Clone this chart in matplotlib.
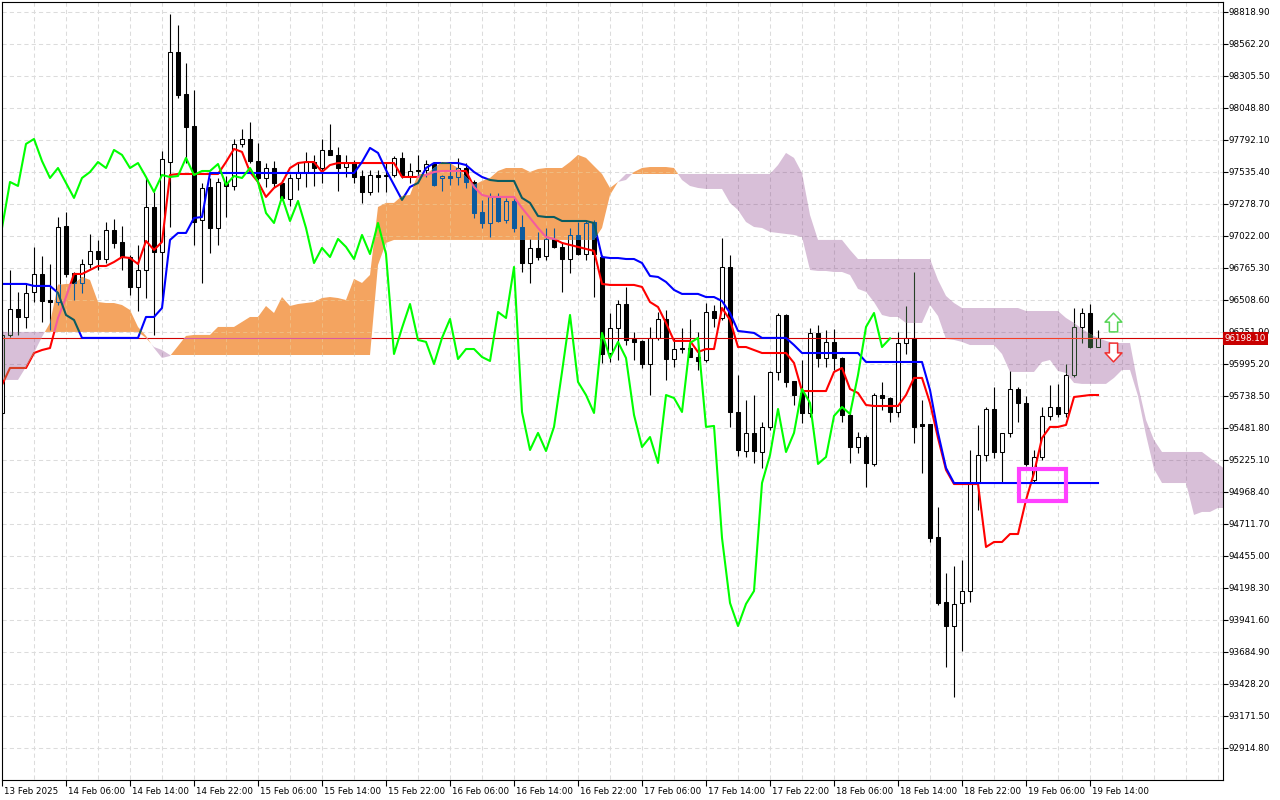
import matplotlib
matplotlib.use("Agg")
import matplotlib.pyplot as plt
import numpy as np
from matplotlib.colors import to_rgb
from matplotlib.path import Path
from matplotlib.patches import PathPatch, Rectangle
from matplotlib.transforms import ScaledTranslation

plt.rcParams['font.family'] = ['DejaVu Sans']

# hourly bars, first one is 13 Feb 22:00
OPEN = [95600, 96226, 96434, 96370, 96571, 96715, 96506, 96490, 97100, 96723,
        96643, 96795, 96900, 96835, 97068, 96972, 96851, 96611, 96747, 97252,
        96891, 97613, 98496, 98159, 97902, 97148, 97413, 97084, 97453, 97421,
        97758, 97798, 97621, 97485, 97565, 97445, 97317, 97485, 97533, 97613,
        97565, 97710, 97670, 97573, 97605, 97501, 97373, 97509, 97509, 97509,
        97646, 97501, 97549, 97549, 97605, 97485, 97501, 97493, 97565, 97453,
        97212, 97124, 97333, 97148, 97301, 97092, 96803, 96924, 96859, 96996,
        96932, 96835, 97028, 96875, 97132, 96851, 96081, 96282, 96474, 96194,
        96178, 95993, 96202, 96354, 96033, 96121, 96121, 96049, 96025, 96418,
        96362, 96771, 95608, 95295, 95440, 95287, 95488, 95929, 96386, 95857,
        95760, 95600, 96242, 96041, 96170, 96041, 95584, 95327, 95407, 95191,
        95744, 95720, 95608, 96161, 96202, 95512, 95512, 94605, 94084, 93891,
        94076, 94172, 95038, 95263, 95632, 95287, 95440, 95792, 95680, 95062,
        95247, 95576, 95648, 95600, 95905, 96290, 96402, 96129]
HIGH = [96266, 96747, 96571, 96643, 96932, 96859, 96795, 97172, 97212, 96731,
        96835, 97036, 96988, 97132, 97156, 97100, 96867, 96948, 97485, 97373,
        97702, 98801, 98712, 98408, 98191, 97445, 97485, 97485, 97501, 97798,
        97878, 97934, 97766, 97605, 97621, 97469, 97517, 97613, 97694, 97670,
        97798, 97918, 97734, 97670, 97629, 97549, 97549, 97549, 97605, 97662,
        97694, 97605, 97670, 97629, 97613, 97509, 97605, 97646, 97605, 97469,
        97309, 97365, 97365, 97325, 97325, 97188, 96996, 97052, 97084, 97084,
        96964, 97084, 97132, 97148, 97148, 96867, 96402, 96506, 96611, 96250,
        96186, 96290, 96410, 96426, 96202, 96282, 96354, 96250, 96482, 96466,
        97004, 96867, 95905, 95704, 95744, 95528, 95937, 96402, 96390, 95860,
        96025, 96282, 96306, 96266, 96274, 96049, 95608, 95448, 95423, 95760,
        95849, 95728, 96250, 96458, 96731, 95704, 95515, 94846, 94316, 94373,
        94421, 95303, 95504, 95648, 95809, 95440, 95937, 95809, 95736, 95303,
        95648, 95825, 95833, 95993, 96442, 96442, 96474, 96266]
LOW = [95544, 96210, 96226, 96282, 96490, 96330, 96266, 96466, 96691, 96506,
       96563, 96763, 96747, 96803, 96924, 96747, 96547, 96418, 96522, 96226,
       96506, 97092, 98127, 97605, 96948, 96643, 96883, 96948, 97172, 97389,
       97734, 97605, 97469, 97413, 97413, 97309, 97260, 97389, 97413, 97421,
       97445, 97670, 97381, 97493, 97445, 97285, 97349, 97373, 97373, 97493,
       97485, 97445, 97493, 97493, 97421, 97381, 97429, 97429, 97405, 97164,
       97084, 97012, 97132, 97124, 97052, 96731, 96643, 96827, 96827, 96924,
       96571, 96723, 96867, 96827, 96530, 96001, 96009, 96025, 96145, 96025,
       95961, 95744, 96186, 95865, 95969, 96081, 96049, 95945, 96009, 96290,
       96346, 95488, 95255, 95247, 95199, 95159, 95464, 95865, 95809, 95664,
       95520, 95568, 95969, 95969, 95945, 95528, 95199, 95279, 95006, 95175,
       95624, 95528, 95568, 96073, 95359, 95119, 94565, 94060, 93562, 93322,
       93691, 94084, 94822, 95215, 95239, 95038, 95407, 95528, 95175, 95038,
       95223, 95544, 95568, 95568, 95889, 96161, 96121, 96129]
CLOSE = [96226, 96434, 96370, 96563, 96715, 96498, 96490, 97092, 96715, 96643,
         96795, 96900, 96835, 97068, 96964, 96851, 96611, 96747, 97252, 96891,
         97638, 98496, 98151, 97894, 97132, 97405, 97084, 97453, 97421, 97758,
         97798, 97621, 97485, 97565, 97445, 97325, 97485, 97533, 97613, 97565,
         97710, 97670, 97565, 97605, 97493, 97373, 97509, 97493, 97501, 97646,
         97509, 97541, 97541, 97597, 97429, 97501, 97485, 97565, 97453, 97204,
         97124, 97333, 97140, 97301, 97084, 96803, 96924, 96851, 96996, 96932,
         96835, 97028, 96875, 97124, 96875, 96073, 96282, 96474, 96186, 96170,
         95993, 96202, 96354, 96033, 96113, 96113, 96049, 96017, 96410, 96362,
         96771, 95608, 95303, 95440, 95295, 95488, 95929, 96386, 95849, 95744,
         95600, 96242, 96041, 96170, 96041, 95584, 95327, 95407, 95199, 95744,
         95720, 95608, 96161, 96202, 95488, 95496, 94597, 94076, 93891, 94068,
         94172, 95038, 95263, 95632, 95287, 95440, 95792, 95680, 95191, 95247,
         95576, 95648, 95592, 95905, 96290, 96402, 96129, 96198.1]

# Ichimoku lines
TENKAN = [95825, 95961, 95961, 95961, 96081, 96105, 96121, 96362, 96530, 96715,
          96715, 96747, 96779, 96779, 96811, 96851, 96843, 96795, 96980, 96908,
          96972, 97509, 97517, 97517, 97517, 97517, 97517, 97517, 97613, 97718,
          97694, 97533, 97453, 97333, 97405, 97445, 97565, 97605, 97613, 97613,
          97533, 97589, 97605, 97605, 97605, 97605, 97605, 97605, 97605, 97605,
          97493, 97493, 97493, 97509, 97533, 97541, 97541, 97541, 97541, 97413,
          97349, 97333, 97333, 97333, 97333, 97244, 97164, 97084, 97012, 96996,
          96964, 96948, 96932, 96916, 96900, 96635, 96627, 96627, 96627, 96627,
          96611, 96490, 96450, 96322, 96178, 96178, 96178, 96089, 96113, 96113,
          96442, 96346, 96129, 96129, 96105, 96081, 96081, 96081, 96081, 96001,
          95776, 95776, 95776, 95776, 95929, 95961, 95792, 95760, 95664, 95656,
          95656, 95656, 95656, 95744, 95881, 95881, 95680, 95399, 95143, 95030,
          95030, 95030, 95030, 94525, 94565, 94565, 94629, 94629, 94902, 95119,
          95399, 95488, 95488, 95504, 95728, 95736, 95744, 95744]
KIJUN = [96635, 96635, 96635, 96635, 96619, 96619, 96619, 96563, 96386, 96346,
         96202, 96202, 96202, 96202, 96202, 96202, 96202, 96202, 96370, 96370,
         96442, 96988, 97044, 97044, 97164, 97172, 97525, 97525, 97525, 97525,
         97525, 97525, 97525, 97525, 97525, 97525, 97525, 97525, 97525, 97525,
         97525, 97525, 97525, 97525, 97525, 97613, 97726, 97686, 97549, 97429,
         97309, 97413, 97445, 97565, 97605, 97605, 97605, 97605, 97589, 97533,
         97493, 97469, 97461, 97461, 97461, 97325, 97285, 97180, 97172, 97172,
         97140, 97140, 97140, 97140, 97124, 96851, 96843, 96843, 96835, 96835,
         96803, 96699, 96691, 96651, 96587, 96555, 96555, 96555, 96530, 96530,
         96498, 96402, 96258, 96250, 96242, 96202, 96202, 96202, 96202, 96145,
         96081, 96081, 96081, 96081, 96081, 96081, 96081, 96081, 96009, 96009,
         96009, 96009, 96009, 96009, 96009, 96009, 95784, 95440, 95159, 95038,
         95038, 95038, 95038, 95038, 95038, 95038, 95038, 95038, 95038, 95038,
         95038, 95038, 95038, 95038, 95038, 95038, 95038, 95038]
# cloud spans, already drawn 26 bars ahead
SPAN_A = [95865, 95865, 95865, 95969, 96081, 96210, 96322, 96627, 96635, 96635,
          96691, 96667, 96490, 96482, 96482, 96466, 96426, 96290, 96218, 96121,
          96041, 96057, 96137, 96218, 96226, 96226, 96226, 96290, 96290, 96290,
          96330, 96370, 96370, 96458, 96402, 96530, 96458, 96474, 96482, 96490,
          96522, 96530, 96522, 96506, 96675, 96643, 96707, 97252, 97285, 97285,
          97341, 97349, 97517, 97517, 97565, 97613, 97605, 97565, 97493, 97429,
          97461, 97485, 97541, 97565, 97565, 97565, 97533, 97557, 97565, 97565,
          97565, 97613, 97670, 97646, 97581, 97517, 97405, 97453, 97469, 97533,
          97565, 97573, 97573, 97573, 97565, 97469, 97421, 97405, 97397, 97397,
          97397, 97285, 97228, 97132, 97092, 97084, 97052, 97044, 97036, 97028,
          97012, 96747, 96739, 96739, 96731, 96731, 96707, 96595, 96571, 96490,
          96386, 96370, 96370, 96322, 96322, 96322, 96466, 96378, 96194, 96186,
          96170, 96145, 96145, 96145, 96145, 96073, 95929, 95929, 95929, 95929,
          96009, 96025, 95937, 95921, 95841, 95833, 95833, 95833, 95833, 95881,
          95945, 95945, 95736, 95423, 95151, 95038, 95038, 95038, 95038, 94782,
          94806, 94806, 94838, 94838]
SPAN_B = [96250, 96250, 96250, 96250, 96250, 96250, 96250, 96250, 96250, 96250,
          96250, 96250, 96250, 96250, 96250, 96250, 96250, 96250, 96202, 96129,
          96105, 96065, 96065, 96065, 96065, 96065, 96065, 96065, 96065, 96065,
          96065, 96065, 96065, 96065, 96065, 96065, 96065, 96065, 96065, 96065,
          96065, 96065, 96065, 96065, 96065, 96065, 96065, 96787, 96964, 96988,
          96988, 96988, 96988, 96988, 96988, 96988, 96988, 96988, 96988, 96988,
          96988, 96988, 96988, 96988, 96988, 96988, 96988, 96988, 96988, 96988,
          96988, 96988, 96988, 96988, 96988, 97084, 97349, 97453, 97517, 97517,
          97517, 97517, 97517, 97517, 97517, 97517, 97517, 97517, 97517, 97517,
          97517, 97517, 97517, 97517, 97517, 97517, 97517, 97589, 97686, 97646,
          97525, 97188, 96988, 96988, 96988, 96988, 96908, 96835, 96835, 96835,
          96835, 96835, 96835, 96835, 96835, 96835, 96835, 96667, 96539, 96482,
          96442, 96442, 96442, 96442, 96442, 96442, 96442, 96442, 96418, 96418,
          96418, 96418, 96418, 96362, 96322, 96274, 96234, 96202, 96178, 96161,
          96161, 96161, 95825, 95544, 95383, 95287, 95287, 95287, 95287, 95287,
          95287, 95239, 95191, 95143]
CHIKOU_SHIFT = 26

BID = 96198.10
PRICE_TICKS = [98818.90, 98562.20, 98305.50, 98048.80, 97792.10, 97535.40,
               97278.70, 97022.00, 96765.30, 96508.60, 96251.90, 95995.20,
               95738.50, 95481.80, 95225.10, 94968.40, 94711.70, 94455.00,
               94198.30, 93941.60, 93684.90, 93428.20, 93171.50, 92914.80]
DATE_LABELS = ["13 Feb 2025", "14 Feb 06:00", "14 Feb 14:00", "14 Feb 22:00",
               "15 Feb 06:00", "15 Feb 14:00", "15 Feb 22:00", "16 Feb 06:00",
               "16 Feb 14:00", "16 Feb 22:00", "17 Feb 06:00", "17 Feb 14:00",
               "17 Feb 22:00", "18 Feb 06:00", "18 Feb 14:00", "18 Feb 22:00",
               "19 Feb 06:00", "19 Feb 14:00"]
DATE_STEP = 8
GRID_STEP = 4

# tenkan/kijun cross box and the two signal arrows
CROSS_BOX = (127.1, 94894, 133.0, 95150)
ARROW_BAR = 138.9
ARROW_UP = 96330
ARROW_DOWN = 96093

SANDY = '#f4a460'
THISTLE = '#d8bfd8'
GRID_COL = '#dcdcdc'
BID_COL = '#d00000'
FS = 6.3


def xor_with(cloud):
    # the cloud filling inverts whatever lies under it
    cl = np.round(np.array(to_rgb(cloud)) * 255).astype(int)

    def f(c):
        v = np.round(np.array(to_rgb(c)) * 255).astype(int)
        return tuple((v ^ (255 - cl)) / 255.0)
    return f


def draw_layer(ax, col, z, grid_col, clip=None):
    arts = []
    x = np.arange(len(OPEN))
    o, h, l, c = (np.asarray(v, dtype=float) for v in (OPEN, HIGH, LOW, CLOSE))

    # grid
    arts.append(ax.hlines(PRICE_TICKS, 0, 160, colors=[grid_col], lw=0.75,
                          linestyles=(0, (4, 3)), zorder=z))
    arts.append(ax.vlines(np.arange(GRID_STEP, 160, GRID_STEP), 90000, 100000,
                          colors=[grid_col], lw=0.75, linestyles=(0, (4, 3)), zorder=z))

    # candles
    arts.append(ax.vlines(x, l, h, colors=[col('black')], lw=0.8, zorder=z + 1))
    up = c >= o
    bottom = np.minimum(o, c)
    height = np.maximum(np.abs(c - o), 7)
    b1 = ax.bar(x[up], height[up], bottom=bottom[up], width=0.6, facecolor=col('white'),
                edgecolor=col('black'), lw=0.75, zorder=z + 1.1)
    b2 = ax.bar(x[~up], height[~up], bottom=bottom[~up], width=0.6, facecolor=col('black'),
                edgecolor=col('black'), lw=0.75, zorder=z + 1.1)
    arts += list(b1) + list(b2)

    arts.append(ax.axhline(BID, color=col(BID_COL), lw=0.8, zorder=z + 1.5))
    arts += ax.plot(x, TENKAN, color=col('#ff0000'), lw=1.5, zorder=z + 2)
    arts += ax.plot(x, KIJUN, color=col('#0000ff'), lw=1.5, zorder=z + 2.1)

    if clip is not None:
        for a in arts:
            a.set_clip_path(clip)


def main():
    fig = plt.figure(figsize=(12.8, 8), dpi=100)
    ax = fig.add_axes([2 / 1280, 20.5 / 800, 1220.5 / 1280, 777.5 / 800])
    ax.set_xlim(0, 152.56)
    ax.set_ylim(92659.7, 98896.7)

    draw_layer(ax, lambda c: c, 0.5, GRID_COL)

    # kumo
    xs = np.arange(len(SPAN_A))
    a = np.asarray(SPAN_A, dtype=float)
    b = np.asarray(SPAN_B, dtype=float)
    bull = ax.fill_between(xs, a, b, where=a >= b, interpolate=True, color=SANDY,
                           lw=0, zorder=4)
    bear = ax.fill_between(xs, a, b, where=a < b, interpolate=True, color=THISTLE,
                           lw=0, zorder=4)

    for coll, cloud, gcol in ((bull, SANDY, '#f0bb80'), (bear, THISTLE, '#bfa7bf')):
        paths = coll.get_paths()
        if not paths:
            continue
        patch = PathPatch(Path.make_compound_path(*paths), transform=ax.transData,
                          facecolor='none', edgecolor='none')
        draw_layer(ax, xor_with(cloud), 4.5, gcol, clip=patch)

    # chikou span
    ch = np.asarray(CLOSE[CHIKOU_SHIFT:], dtype=float)
    ax.plot(np.arange(len(ch)), ch, color='#00ff00', lw=1.5, zorder=8)

    # annotations
    x0, y0, x1, y1 = CROSS_BOX
    ax.add_patch(Rectangle((x0, y0), x1 - x0, y1 - y0, fill=False, ec='#ff40ff',
                           lw=3, zorder=9))
    up_arrow = Path([(-0.22, -0.5), (0.22, -0.5), (0.22, 0.02), (0.45, 0.02), (0, 0.5),
                     (-0.45, 0.02), (-0.22, 0.02), (-0.22, -0.5)], closed=True)
    dn_arrow = Path([(px, -py) for px, py in up_arrow.vertices], closed=True)
    ax.plot([ARROW_BAR], [ARROW_UP], marker=up_arrow, ms=13.5, mfc='white',
            mec='#55d455', mew=1.1, ls='none', zorder=9)
    ax.plot([ARROW_BAR], [ARROW_DOWN], marker=dn_arrow, ms=13.5, mfc='white',
            mec='#f03030', mew=1.1, ls='none', zorder=9)

    # axes
    for s in ax.spines.values():
        s.set_color('black')
        s.set_linewidth(0.8)
        s.set_zorder(10)
    ax.yaxis.tick_right()
    ax.set_yticks(PRICE_TICKS)
    ax.set_yticklabels([f"{v:.2f}" for v in PRICE_TICKS])
    ax.tick_params(axis='y', direction='out', length=3.5, width=0.8, pad=1,
                   labelsize=FS, colors='black')
    ax.set_xticks(np.arange(len(DATE_LABELS)) * DATE_STEP)
    ax.set_xticklabels(DATE_LABELS, ha='left')
    ax.tick_params(axis='x', direction='out', length=4, width=0.8, pad=1.5,
                   labelsize=FS, colors='black')
    shift = ScaledTranslation(2 / 100, 0, fig.dpi_scale_trans)
    for lab in ax.get_xticklabels():
        lab.set_transform(lab.get_transform() + shift)

    # current bid label
    ax.text(1.002, BID, f"{BID:.2f}", transform=ax.get_yaxis_transform(), ha='left',
            va='center', fontsize=FS, color='white', zorder=11, clip_on=False,
            bbox=dict(boxstyle='square,pad=0.22', fc='#c80000', ec='none'))

    fig.savefig('out.png', dpi=100)


if __name__ == "__main__":
    main()
